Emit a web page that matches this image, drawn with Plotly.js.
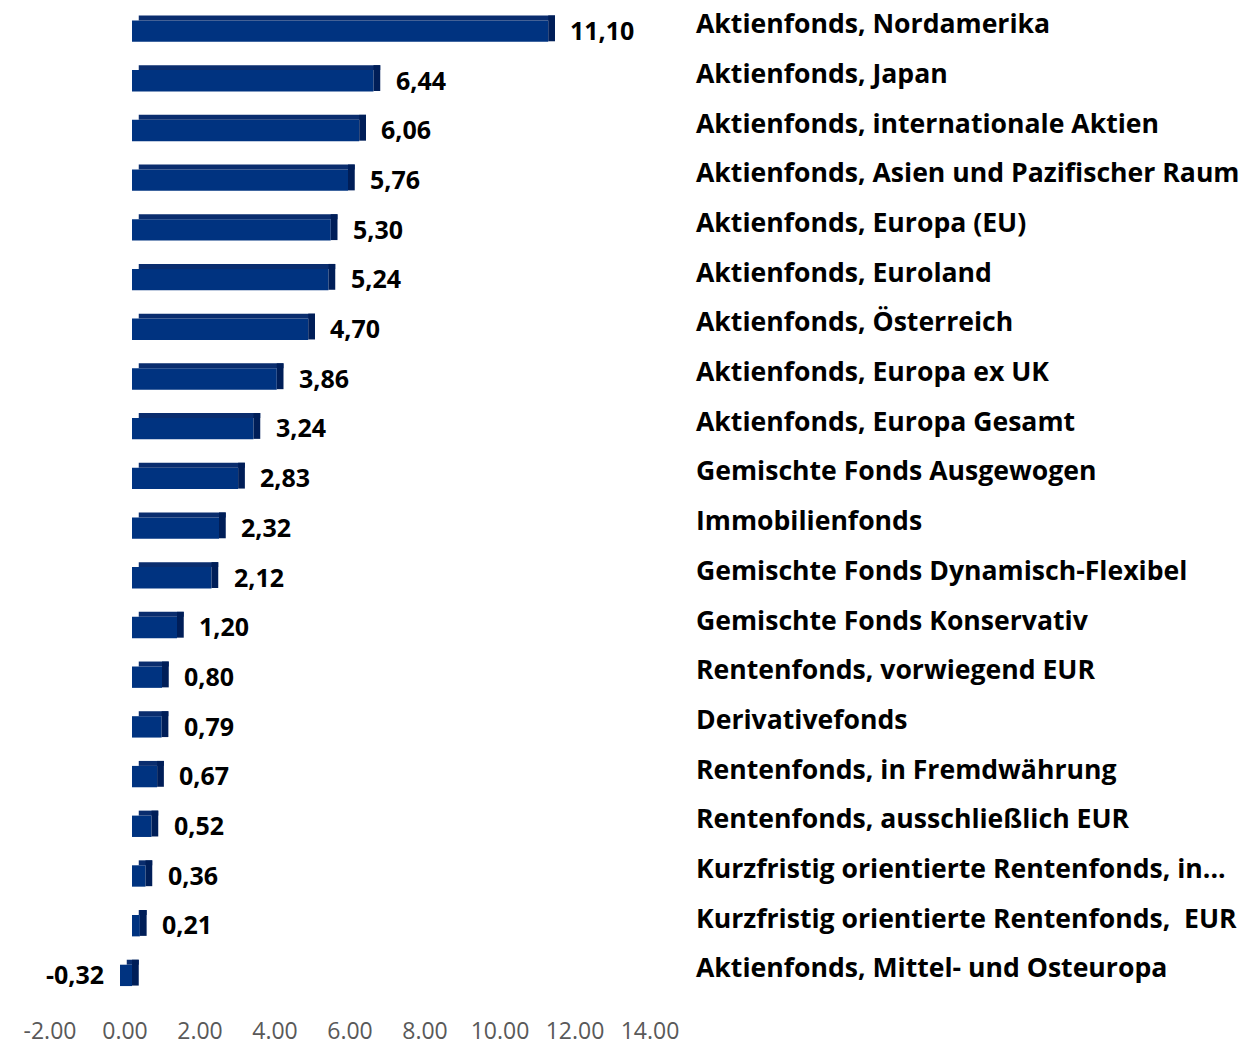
<!DOCTYPE html>
<html>
<head>
<meta charset="utf-8">
<script src="https://cdn.plot.ly/plotly-3.0.1.min.js"></script>
<style>
  body { margin: 0; background: #fff; }
  #graph { width: 1242px; height: 1048px; }
</style>
</head>
<body>
<div id="graph"></div>
<script>
var categories = [
  "Aktienfonds, Nordamerika",
  "Aktienfonds, Japan",
  "Aktienfonds, internationale Aktien",
  "Aktienfonds, Asien und Pazifischer Raum",
  "Aktienfonds, Europa (EU)",
  "Aktienfonds, Euroland",
  "Aktienfonds, Österreich",
  "Aktienfonds, Europa ex UK",
  "Aktienfonds, Europa Gesamt",
  "Gemischte Fonds Ausgewogen",
  "Immobilienfonds",
  "Gemischte Fonds Dynamisch-Flexibel",
  "Gemischte Fonds Konservativ",
  "Rentenfonds, vorwiegend EUR",
  "Derivativefonds",
  "Rentenfonds, in Fremdwährung",
  "Rentenfonds, ausschließlich EUR",
  "Kurzfristig orientierte Rentenfonds, in...",
  "Kurzfristig orientierte Rentenfonds,  EUR",
  "Aktienfonds, Mittel- und Osteuropa"
];
var values = [11.10, 6.44, 6.06, 5.76, 5.30, 5.24, 4.70, 3.86, 3.24, 2.83,
              2.32, 2.12, 1.20, 0.80, 0.79, 0.67, 0.52, 0.36, 0.21, -0.32];
var tickVals = [-2, 0, 2, 4, 6, 8, 10, 12, 14];
var tickLabels = ["-2.00", "0.00", "2.00", "4.00", "6.00", "8.00", "10.00", "12.00", "14.00"];

var depth = 0.18; // 3d side depth in x units
var pos = categories.map(function(c, i){ return i; });

function label(v){ return v.toFixed(2).replace('.', ','); }

var front = {
  type: 'bar', orientation: 'h',
  y: pos, x: values, base: 0,
  width: 0.43, offset: -0.17,
  marker: {color: '#003380', line: {width: 0}},
  hoverinfo: 'skip'
};
var top_face = {
  type: 'bar', orientation: 'h',
  y: pos, x: values.map(function(v){ return Math.abs(v); }),
  base: values.map(function(v){ return Math.min(v, 0) + depth; }),
  width: 0.1, offset: -0.27,
  marker: {color: '#0a2d6e', line: {width: 0}},
  hoverinfo: 'skip'
};
var side = {
  type: 'bar', orientation: 'h',
  y: pos, x: values.map(function(){ return depth; }),
  base: values.map(function(v){ return Math.max(v, 0); }),
  width: 0.52, offset: -0.27,
  marker: {color: '#001e58', line: {width: 0}},
  hoverinfo: 'skip'
};

var annotations = values.map(function(v, i){
  return {
    x: v, y: i, xref: 'x', yref: 'y',
    text: label(v), showarrow: false,
    xanchor: v < 0 ? 'right' : 'left',
    xshift: v < 0 ? -14 : 20, yshift: -1,
    font: {family: 'Open Sans', size: 25, color: '#000', weight: 700}
  };
});

var layout = {
  width: 1242, height: 1048,
  margin: {l: 57, r: 585, t: 4, b: 50},
  barmode: 'overlay',
  showlegend: false,
  paper_bgcolor: '#fff', plot_bgcolor: '#fff',
  font: {family: 'Open Sans'},
  xaxis: {
    range: [-2, 14], tickvals: tickVals, ticktext: tickLabels,
    showgrid: false, zeroline: false, showline: false, ticks: '',
    ticklabelshift: -7, ticklabelstandoff: 17,
    tickfont: {family: 'Open Sans', size: 23, color: '#595959'}
  },
  yaxis: {
    range: [19.5, -0.5], tickvals: pos, ticktext: categories,
    side: 'right', showgrid: false, zeroline: false, showline: false, ticks: '',
    ticklabelstandoff: 38, ticklabelshift: 5,
    tickfont: {family: 'Open Sans', size: 26.6, color: '#000', weight: 700}
  },
  annotations: annotations
};

Plotly.newPlot('graph', [front, top_face, side], layout, {displayModeBar: false});
</script>
</body>
</html>
